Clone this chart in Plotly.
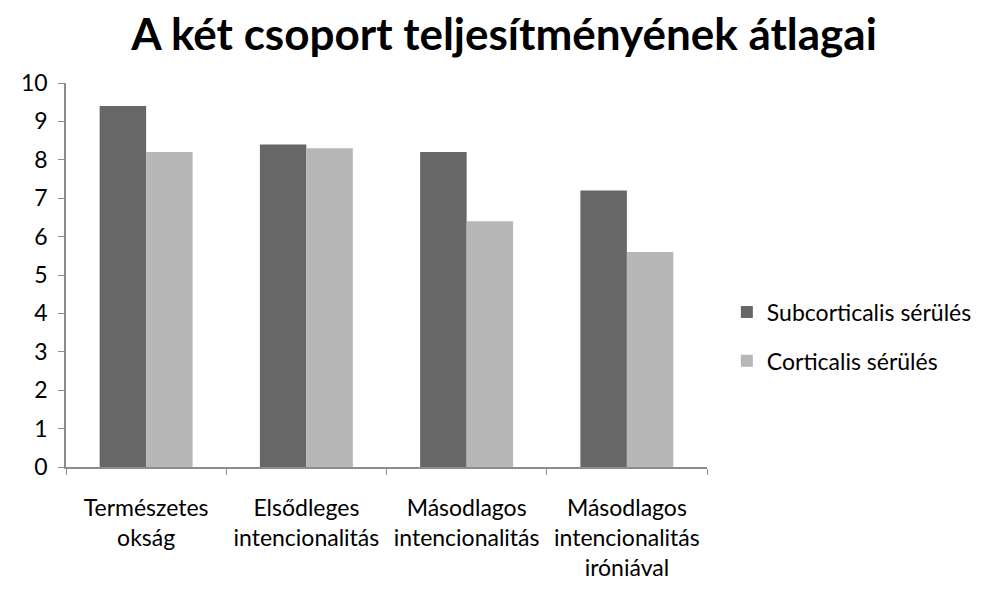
import plotly.graph_objects as go

categories = [
    "Természetes<br>okság",
    "Elsődleges<br>intencionalitás",
    "Másodlagos<br>intencionalitás",
    "Másodlagos<br>intencionalitás<br>iróniával",
]
subcortical = [9.4, 8.4, 8.2, 7.2]
cortical = [8.2, 8.3, 6.4, 5.6]

font_name = "Lato"

fig = go.Figure()
fig.add_trace(go.Bar(x=categories, y=subcortical, name="Subcorticalis sérülés",
                     legendgroup="sub",
                     marker=dict(color="#676767", line=dict(width=0))))
fig.add_trace(go.Bar(x=categories, y=cortical, name="Corticalis sérülés",
                     legendgroup="cort",
                     marker=dict(color="#b7b7b7", line=dict(width=0))))

# page has an 8px body margin, so margins are shifted by that amount
fig.update_layout(
    width=992, height=592,
    margin=dict(l=58, r=293, t=75, b=133, autoexpand=False),
    paper_bgcolor="white", plot_bgcolor="white",
    font=dict(family=font_name, size=22, color="black"),
    title=dict(text="<b>A két csoport teljesítményének átlagai</b>",
               x=0.5, xanchor="center", y=0.955, yanchor="middle",
               font=dict(size=44, family=font_name)),
    barmode="group", bargap=0.42, bargroupgap=0,
    legend=dict(x=1.031, xanchor="left", y=0.34, yanchor="middle",
                font=dict(size=23), tracegroupgap=16, itemsizing="constant"),
    showlegend=True,
)
fig.update_xaxes(showline=True, linecolor="#8c8c8c", linewidth=1.5,
                 ticks="outside", tickson="boundaries", ticklen=6, tickcolor="#8c8c8c",
                 tickangle=0, ticklabelstandoff=20, tickfont=dict(size=23), showgrid=False)
fig.update_yaxes(range=[0, 10], dtick=1, showline=True, linecolor="#8c8c8c", linewidth=1.5,
                 ticks="outside", ticklen=6, tickcolor="#8c8c8c", ticklabelstandoff=6,
                 tickfont=dict(size=23), showgrid=False, zeroline=False)

fig.write_html("out.html")
